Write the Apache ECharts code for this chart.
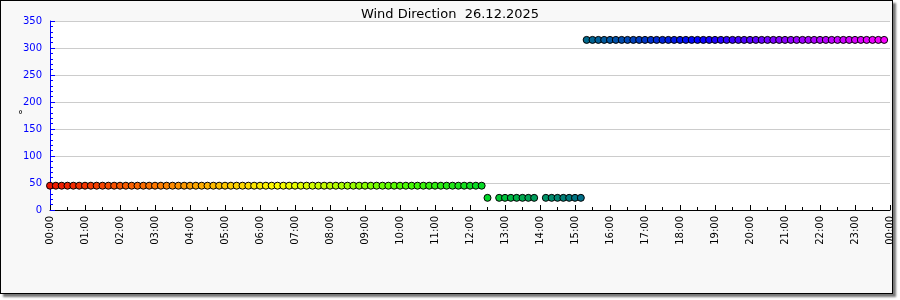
<!DOCTYPE html>
<html>
<head>
<meta charset="utf-8">
<script src="https://cdn.jsdelivr.net/npm/echarts@6/dist/echarts.min.js"></script>
<style>
  html, body { margin: 0; padding: 0; background: #ffffff; }
  #frame { position: absolute; left: 0; top: 0; width: 891px; height: 292px;
           border: 1px solid #000; background: #f8f8f8;
           box-shadow: 3px 3px 2px #777; }
  #chart { position: absolute; left: 0; top: 0; width: 900px; height: 300px; }
</style>
</head>
<body>
<div id="frame"></div>
<div id="chart"></div>
<script>
// ---- data ----
const titleText = 'Wind Direction  26.12.2025';
const yUnit = '°';
const stepMinutes = 10;          // one reading every 10 minutes, starting 00:00
const direction = [
  45,45,45,45,45,45,45,45,45,45,45,45,            // 00:00-01:50
  45,45,45,45,45,45,45,45,45,45,45,45,            // 02:00-03:50
  45,45,45,45,45,45,45,45,45,45,45,45,            // 04:00-05:50
  45,45,45,45,45,45,45,45,45,45,45,45,            // 06:00-07:50
  45,45,45,45,45,45,45,45,45,45,45,45,            // 08:00-09:50
  45,45,45,45,45,45,45,45,45,45,45,45,            // 10:00-11:50
  45,45,45,22.5,null,22.5,22.5,22.5,22.5,22.5,22.5,22.5, // 12:00-13:50
  null,22.5,22.5,22.5,22.5,22.5,22.5,22.5,315,315,315,315, // 14:00-15:50
  315,315,315,315,315,315,315,315,315,315,315,315, // 16:00-17:50
  315,315,315,315,315,315,315,315,315,315,315,315, // 18:00-19:50
  315,315,315,315,315,315,315,315,315,315,315,315, // 20:00-21:50
  315,315,315,315,315,315,315,315,315,315,315,315  // 22:00-23:50
];
const yTicks = [0, 50, 100, 150, 200, 250, 300, 350];

// ---- style: colour by time of day ----
const colorStops = [
  [0,  [238, 20, 0]],
  [3,  [255, 120, 0]],
  [5,  [255, 200, 0]],
  [6.5,[255, 255, 0]],
  [8,  [190, 255, 0]],
  [10, [80, 255, 0]],
  [12.5,[0, 215, 40]],
  [13.5,[0, 170, 80]],
  [15, [0, 115, 130]],
  [16.5,[0, 70, 180]],
  [18.5,[0, 0, 255]],
  [21, [140, 0, 255]],
  [24, [255, 0, 255]]
];
function colorAt(h) {
  for (let i = 1; i < colorStops.length; i++) {
    if (h <= colorStops[i][0]) {
      const [h0, c0] = colorStops[i - 1], [h1, c1] = colorStops[i];
      const t = (h - h0) / (h1 - h0);
      const c = c0.map((v, k) => Math.round(v + (c1[k] - v) * t));
      return 'rgb(' + c.join(',') + ')';
    }
  }
  return 'rgb(255,0,255)';
}

const points = [];
direction.forEach((v, i) => {
  if (v === null) return;
  const m = i * stepMinutes;
  points.push({ value: [m, v], itemStyle: { color: colorAt(m / 60) } });
});

function fmt(m) {
  const h = Math.floor(m / 60) % 24, mm = m % 60;
  return String(h).padStart(2, '0') + ':' + String(mm).padStart(2, '0');
}

const chart = echarts.init(document.getElementById('chart'), null, { renderer: 'canvas' });
chart.setOption({
  animation: false,
  backgroundColor: 'transparent',
  textStyle: { fontFamily: 'DejaVu Sans' },
  title: {
    text: titleText, left: 'center', top: 3,
    textStyle: { fontSize: 13, fontWeight: 'normal', color: '#000', fontFamily: 'DejaVu Sans' }
  },
  grid: { left: 50, right: 10, top: 21, bottom: 90, backgroundColor: '#fff', show: true, borderWidth: 0 },
  xAxis: {
    type: 'value', min: 0, max: 1440, interval: 60,
    axisLine: { show: true, lineStyle: { color: '#000', width: 1 } },
    axisTick: { show: true, inside: true, length: 5, lineStyle: { color: '#000' } },
    minorTick: { show: true, splitNumber: 2, length: 3, lineStyle: { color: '#000' } },
    splitLine: { show: false },
    axisLabel: { rotate: 90, fontSize: 10, color: '#000', margin: 6, formatter: v => fmt(v) }
  },
  yAxis: {
    type: 'value', min: yTicks[0], max: yTicks[yTicks.length - 1], interval: 50,
    name: yUnit, nameLocation: 'middle', nameGap: 27, nameRotate: 0, nameMoveOverlap: false,
    nameTextStyle: { fontSize: 10, color: '#000' },
    axisLine: { show: true, lineStyle: { color: '#0000ff', width: 1 } },
    axisTick: { show: true, inside: true, length: 5, lineStyle: { color: '#0000ff' } },
    minorTick: { show: true, splitNumber: 5, length: 3, lineStyle: { color: '#0000ff' } },
    splitLine: { show: true, lineStyle: { color: '#cccccc', width: 1 } },
    axisLabel: { fontSize: 10, color: '#0000ff', margin: 8 }
  },
  series: [{
    type: 'scatter',
    data: points,
    symbol: 'circle',
    symbolSize: 7,
    itemStyle: { borderColor: '#000', borderWidth: 1, opacity: 1 }
  }]
});
</script>
</body>
</html>
